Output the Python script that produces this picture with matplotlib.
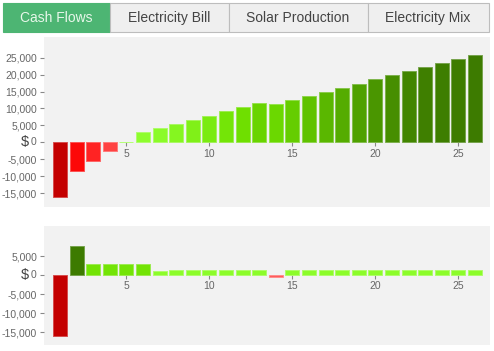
import numpy as np
import matplotlib
matplotlib.use("Agg")
import matplotlib.pyplot as plt
from matplotlib.colors import LinearSegmentedColormap, to_rgb
from matplotlib.patches import Rectangle
from matplotlib.ticker import FuncFormatter

# values
years = list(range(1, 27))
cumulative = [-16000, -8400, -5500, -2700, 150, 3050, 4200, 5400, 6600, 7900,
              9200, 10400, 11600, 11200, 12400, 13700, 14900, 16100, 17300,
              18600, 19800, 21000, 22100, 23300, 24600, 25800]
yearly = [-16000, 7700, 2900, 2850, 2850, 2900, 1150, 1200, 1200, 1200,
          1200, 1200, 1200, -400, 1200, 1200, 1200, 1200, 1200,
          1200, 1200, 1200, 1200, 1200, 1200, 1200]
tabs = ["Cash Flows", "Electricity Bill", "Solar Production", "Electricity Mix"]

plt.rcParams['font.family'] = ['Liberation Sans', 'DejaVu Sans']

greens = LinearSegmentedColormap.from_list(
    "greens", [(0, "#95ff3c"), (0.15, "#8cfc2a"), (0.4, "#6fe000"),
               (0.7, "#4c9a00"), (0.85, "#3f7f00"), (1, "#3d7b00")])
reds = LinearSegmentedColormap.from_list(
    "reds", [(0, "#ff6060"), (0.5, "#ff0808"), (1, "#c40000")])


def bar_colors(vals):
    vals = np.asarray(vals, dtype=float)
    pmax = vals.max()
    nmin = -vals.min()
    cols = []
    for v in vals:
        if v >= 0:
            cols.append(greens(v / pmax))
        else:
            cols.append(reds(-v / nmin))
    return cols


def lighten(c, f=0.3):
    r, g, b = to_rgb(c)
    return (r + (1 - r) * f, g + (1 - g) * f, b + (1 - b) * f)


def money(v, pos):
    if v == 0:
        return ""
    return "{:,.0f}".format(v)


def draw(ax, vals, ylim, yticks):
    ax.set_facecolor("#f2f2f2")
    cols = bar_colors(vals)
    ax.bar(years, vals, width=0.84, color=cols,
           edgecolor=[lighten(c) for c in cols], linewidth=0.7, zorder=2)
    ax.set_xlim(0.04, 26.9)
    ax.set_ylim(*ylim)
    for s in ax.spines.values():
        s.set_visible(False)
    ax.spines['bottom'].set_position(('data', 0))
    ax.set_xticks([5, 10, 15, 20, 25])
    ax.set_yticks(yticks)
    ax.yaxis.set_major_formatter(FuncFormatter(money))
    ax.tick_params(axis='both', colors="#888888", labelcolor="#666666",
                   labelsize=7.5, length=3, width=0.8, pad=2)
    ax.tick_params(axis='x', pad=1.5)
    # the "$ 0" label
    ax.text(-0.033, 0, "$", transform=ax.get_yaxis_transform(), ha="right",
            va="center", fontsize=10.5, color="#444444")
    ax.text(-0.0165, 0, "0", transform=ax.get_yaxis_transform(), ha="right",
            va="center", fontsize=7.5, color="#666666")


fig = plt.figure(figsize=(4.94, 3.51), dpi=100)
W, H = 494.0, 351.0

ax1 = fig.add_axes([44 / W, 1 - 207 / H, 446 / W, 170 / H])
draw(ax1, cumulative, (-19100, 31100),
     [-15000, -10000, -5000, 0, 5000, 10000, 15000, 20000, 25000])

ax2 = fig.add_axes([44 / W, 1 - 345 / H, 446 / W, 119 / H])
draw(ax2, yearly, (-18400, 12900), [-15000, -10000, -5000, 0, 5000])

# tab bar
edges = [3, 110, 228.5, 367.5, 488.5]
for i, name in enumerate(tabs):
    x0, x1 = edges[i], edges[i + 1]
    active = i == 0
    fig.patches.append(Rectangle((x0 / W, 1 - 32.3 / H), (x1 - x0) / W, 29 / H,
                                 transform=fig.transFigure,
                                 facecolor="#4db573" if active else "#efefef",
                                 edgecolor="#4db573" if active else "#bdbdbd",
                                 linewidth=0.8))
    fig.text((x0 + x1) / 2 / W, 1 - 18 / H, name, ha="center", va="center",
             fontsize=10, color="#e8f7ea" if active else "#444444")

fig.savefig("out.png", dpi=100)
